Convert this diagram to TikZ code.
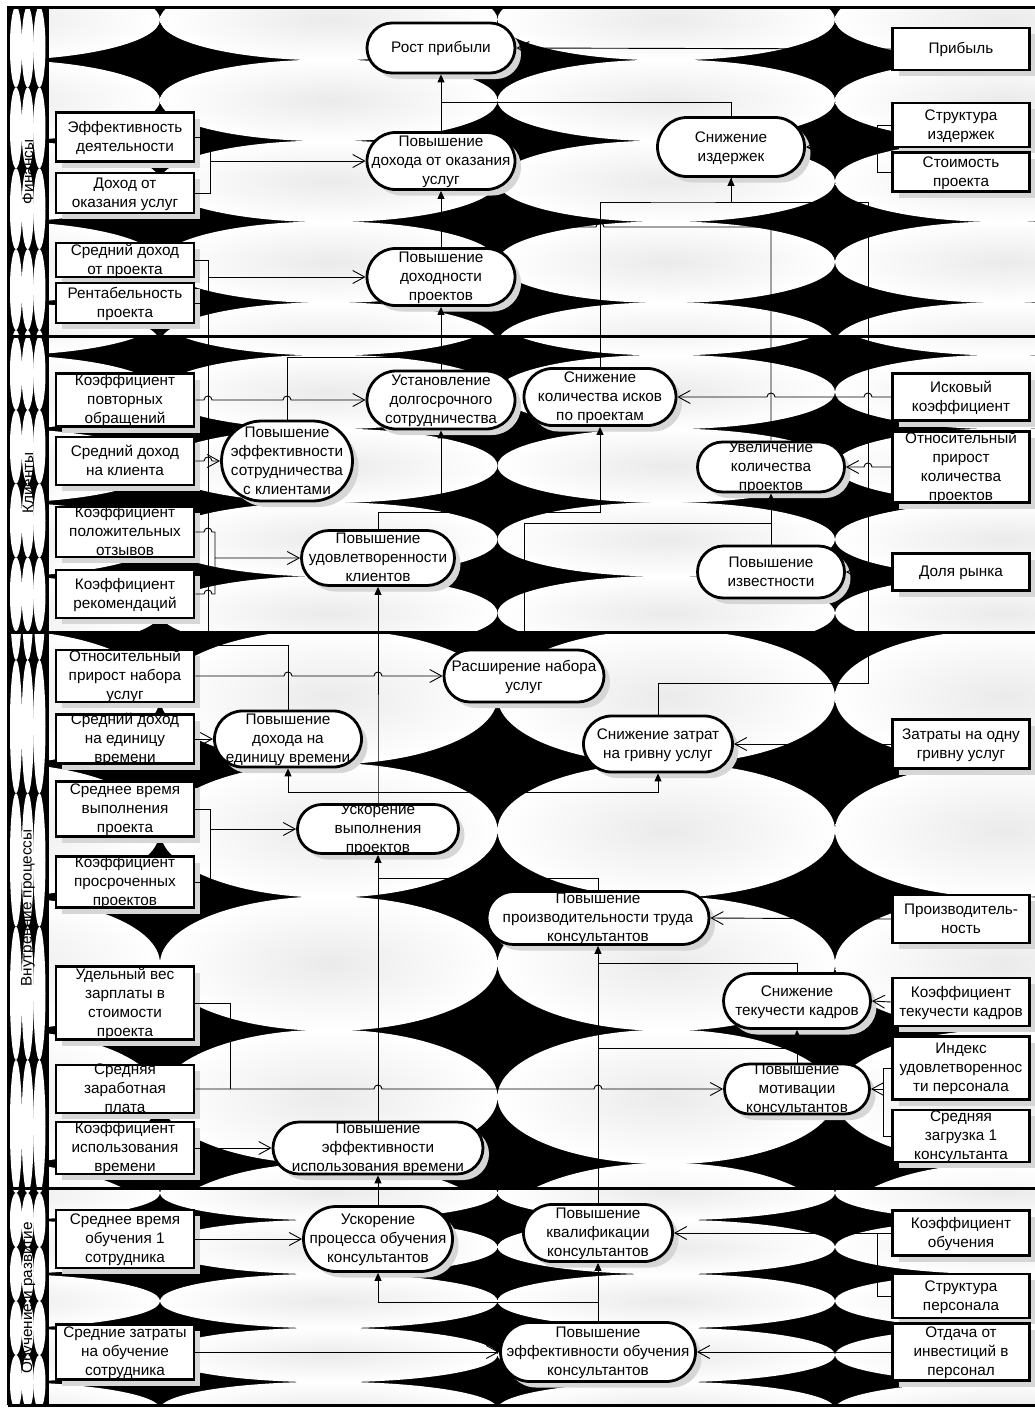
\documentclass[tikz,border=0pt]{standalone}
\usepackage{fontspec}
\setmainfont{Liberation Sans}
\usetikzlibrary{arrows.meta,shapes.misc,shadows}
\newcommand\nodefont{\fontsize{15.3}{19}\selectfont}
\newcommand\ntext[1]{\makebox[0pt]{\smash{\raisebox{-4.3pt}{\begin{tabular}{@{}c@{}}#1\end{tabular}}}}}
\newcommand\lanebg[4]{%
 \begin{scope}
  \clip (48,#1) rectangle (1035,#2);
  \fill[black] (48,#1) rectangle (1035,#2);
  \foreach \k in {0,...,3}{
   \foreach \j in {0,...,5}{
     \shade[inner color=black!8,outer color=white] ({-8.75+337.5*\k},{#3+#4*\j}) ellipse[x radius=168.75pt,y radius={0.505*#4pt}];
   }}
 \end{scope}}
\newcommand\headbg[4]{%
 \begin{scope}
  \clip (10,#1) rectangle (46,#2);
  \fill[black] (10,#1) rectangle (46,#2);
  \foreach \xc in {16,27.7,39.4}{
   \foreach \j in {-1,...,5}{
     \fill[white] (\xc,{#3+#4*(\j+0.5)}) ellipse[x radius=6.1pt,y radius={0.5*#4pt}];
   }}
 \end{scope}}
\tikzset{
  shd/.style={drop shadow={shadow xshift=6pt,shadow yshift=-6pt,fill=black!16,opacity=1}},
  mbox/.style={rectangle,draw,line width=2.8pt,fill=white,inner sep=0pt,minimum width=138pt,font=\nodefont,shd},
  rbox/.style={mbox,minimum width=137pt},
  goal/.style={rounded rectangle,draw,line width=2.8pt,fill=white,inner sep=0pt,font=\nodefont,shd},
  ln/.style={line width=0.9pt},
  oa/.style={ln,-{Straight Barb[length=12pt,width=13pt]}},
  fa/.style={ln,-{Triangle[length=8pt,width=7pt]}},
  lanelbl/.style={rotate=90,font=\nodefont,inner sep=0pt},
  frame/.style={line width=3pt},
}
\begin{document}
\begin{tikzpicture}[x=1pt,y=-1pt]
\useasboundingbox (0,0) rectangle (1035,1408);
\fill[white] (0,0) rectangle (1035,1408);
% ---------- backgrounds ----------
\lanebg{9}{335}{19.5}{80.9}
\lanebg{337}{632}{318.3}{73.7}
\lanebg{633}{1188}{563.7}{133.3}
\lanebg{1189}{1404}{1193}{54}
\headbg{9}{335}{6.5}{80.9}
\headbg{337}{632}{262.6}{73.7}
\headbg{633}{1188}{526.7}{133.3}
\headbg{1189}{1404}{1193}{54}
% ---------- frame ----------
\draw[frame] (8,1405) -- (8,7.5) -- (1035,7.5);
\draw[frame] (47,7.5) -- (47,1405);
\draw[frame] (8,336) -- (1035,336);
\draw[frame] (8,632.5) -- (1035,632.5);
\draw[frame] (8,1188.5) -- (1035,1188.5);
\draw[frame] (8,1405) -- (1035,1405);
% ---------- lane labels ----------
\node[lanelbl] (lab1) at (28,172) {Финансы};
\node[lanelbl] (lab2) at (28,483) {Клиенты};
\node[lanelbl] (lab3) at (28,908) {Внутренние процессы};
\node[lanelbl] (lab4) at (28,1298) {Обучение и развитие};
% ---------- left metric boxes ----------
\node[mbox,minimum height=49pt] (m1) at (125,137) {\ntext{Эффективность\\деятельности}};
\node[mbox,minimum height=40pt] (m2) at (125,193) {\ntext{Доход от\\оказания услуг}};
\node[mbox,minimum height=34pt] (m3) at (125,260) {\ntext{Средний доход\\от проекта}};
\node[mbox,minimum height=40pt] (m4) at (125,303) {\ntext{Рентабельность\\проекта}};
\node[mbox,minimum height=53pt] (m5) at (125,400) {\ntext{Коэффициент\\повторных\\обращений}};
\node[mbox,minimum height=48pt] (m6) at (125,461) {\ntext{Средний доход\\на клиента}};
\node[mbox,minimum height=50pt] (m7) at (125,532) {\ntext{Коэффициент\\положительных\\отзывов}};
\node[mbox,minimum height=48pt] (m8) at (125,594) {\ntext{Коэффициент\\рекомендаций}};
\node[mbox,minimum height=52pt] (m9) at (125,676) {\ntext{Относительный\\прирост набора\\услуг}};
\node[mbox,minimum height=49pt] (m10) at (125,739) {\ntext{Средний доход\\на единицу\\времени}};
\node[mbox,minimum height=55pt] (m11) at (125,809) {\ntext{Среднее время\\выполнения\\проекта}};
\node[mbox,minimum height=51pt] (m12) at (125,882) {\ntext{Коэффициент\\просроченных\\проектов}};
\node[mbox,minimum height=73pt] (m13) at (125,1003) {\ntext{Удельный вес\\зарплаты в\\стоимости\\проекта}};
\node[mbox,minimum height=48pt] (m14) at (125,1089) {\ntext{Средняя\\заработная\\плата}};
\node[mbox,minimum height=52pt] (m15) at (125,1148) {\ntext{Коэффициент\\использования\\времени}};
\node[mbox,minimum height=58pt] (m16) at (125,1239) {\ntext{Среднее время\\обучения 1\\сотрудника}};
\node[mbox,minimum height=55pt] (m17) at (125,1352) {\ntext{Средние затраты\\на обучение\\сотрудника}};
% ---------- right metric boxes ----------
\node[rbox,minimum height=42pt] (r1) at (961,49) {\ntext{Прибыль}};
\node[rbox,minimum height=44pt] (r2) at (961,125) {\ntext{Структура\\издержек}};
\node[rbox,minimum height=39pt] (r3) at (961,172) {\ntext{Стоимость\\проекта}};
\node[rbox,minimum height=47pt] (r4) at (961,397) {\ntext{Исковый\\коэффициент}};
\node[rbox,minimum height=71pt] (r5) at (961,467) {\ntext{Относительный\\прирост\\количества\\проектов}};
\node[rbox,minimum height=37pt] (r6) at (961,572) {\ntext{Доля рынка}};
\node[rbox,minimum height=49pt] (r7) at (961,744) {\ntext{Затраты на одну\\гривну услуг}};
\node[rbox,minimum height=48pt] (r8) at (961,919) {\ntext{Производитель-\\ность}};
\node[rbox,minimum height=48pt] (r9) at (961,1002) {\ntext{Коэффициент\\текучести кадров}};
\node[rbox,minimum height=63pt] (r10) at (961,1068) {\ntext{Индекс\\удовлетвореннос\\ти персонала}};
\node[rbox,minimum height=52pt] (r11) at (961,1136) {\ntext{Средняя\\загрузка 1\\консультанта}};
\node[rbox,minimum height=45pt] (r12) at (961,1233) {\ntext{Коэффициент\\обучения}};
\node[rbox,minimum height=44pt] (r13) at (961,1296) {\ntext{Структура\\персонала}};
\node[rbox,minimum height=57pt] (r14) at (961,1352) {\ntext{Отдача от\\инвестиций в\\персонал}};
% ---------- goals ----------
\node[goal,minimum width=148pt,minimum height=50pt] (g1) at (441,48) {\ntext{Рост прибыли}};
\node[goal,minimum width=148pt,minimum height=57pt] (g2) at (441,161) {\ntext{Повышение\\дохода от оказания\\услуг}};
\node[goal,minimum width=148pt,minimum height=57pt] (g3) at (441,277) {\ntext{Повышение\\доходности\\проектов}};
\node[goal,minimum width=147pt,minimum height=59pt] (g4) at (731,147) {\ntext{Снижение\\издержек}};
\node[goal,minimum width=148pt,minimum height=58pt] (g5) at (441,400) {\ntext{Установление\\долгосрочного\\сотрудничества}};
\node[goal,minimum width=152pt,minimum height=57pt] (g6) at (600,397) {\ntext{Снижение\\количества исков\\по проектам}};
\node[goal,minimum width=131pt,minimum height=80pt] (g7) at (287,461) {\ntext{Повышение\\эффективности\\сотрудничества\\с клиентами}};
\node[goal,minimum width=153pt,minimum height=55pt] (g8) at (378,558) {\ntext{Повышение\\удовлетворенности\\клиентов}};
\node[goal,minimum width=147pt,minimum height=50pt] (g9) at (771,467) {\ntext{Увеличение\\количества\\проектов}};
\node[goal,minimum width=147pt,minimum height=52pt] (g10) at (771,572) {\ntext{Повышение\\известности}};
\node[goal,minimum width=160pt,minimum height=52pt] (g11) at (524,676) {\ntext{Расширение набора\\услуг}};
\node[goal,minimum width=147pt,minimum height=56pt] (g12) at (288,739) {\ntext{Повышение\\дохода на\\единицу времени}};
\node[goal,minimum width=149pt,minimum height=56pt] (g13) at (658,744) {\ntext{Снижение затрат\\на гривну услуг}};
\node[goal,minimum width=161pt,minimum height=49pt] (g14) at (378,829) {\ntext{Ускорение\\выполнения\\проектов}};
\node[goal,minimum width=222pt,minimum height=53pt] (g15) at (598,918) {\ntext{Повышение\\производительности труда\\консультантов}};
\node[goal,minimum width=147pt,minimum height=55pt] (g16) at (797,1001) {\ntext{Снижение\\текучести кадров}};
\node[goal,minimum width=145pt,minimum height=50pt] (g17) at (797,1089) {\ntext{Повышение\\мотивации\\консультантов}};
\node[goal,minimum width=210pt,minimum height=52pt] (g18) at (378,1148) {\ntext{Повышение\\эффективности\\использования времени}};
\node[goal,minimum width=149pt,minimum height=65pt] (g19) at (378,1239) {\ntext{Ускорение\\процесса обучения\\консультантов}};
\node[goal,minimum width=149pt,minimum height=57pt] (g20) at (598,1233) {\ntext{Повышение\\квалификации\\консультантов}};
\node[goal,minimum width=195pt,minimum height=59pt] (g21) at (598,1352) {\ntext{Повышение\\эффективности обучения\\консультантов}};
% ---------- junction coordinates ----------
\coordinate (j1) at (210,161);
\coordinate (j2) at (208,277);
\coordinate (j4) at (877,147);
\coordinate (j6) at (215,558);
\coordinate (j7) at (210,829);
\coordinate (j8) at (230,1089);
\coordinate (j9) at (883,1089);
\coordinate (j10) at (877,1233);
\coordinate (k1) at (700,202);
\coordinate (k2) at (441,512);
\coordinate (k3) at (378,792);
\coordinate (k4) at (378,878);
\coordinate (k5) at (598,963);
\coordinate (k6) at (598,1302);
\coordinate (k7) at (441,227);
\coordinate (k8) at (441,357);
\coordinate (k9) at (771,523);
\coordinate (k10) at (598,1048);
% ---------- lane 1 ----------
\draw[oa] (m1.east) -| (j1) -- (g2.west);
\draw[ln] (m2.east) -| (j1);
\draw[oa] (m3.east) -| (j2) -- (g3.west);
\draw[ln] (m4.east) -| (j2);
\draw[ln] (g12.north) |- (208,645) -- (j2);
\draw[fa] (g3.north) -- (g2.south);
\draw[fa] (g2.north) -- (g1.south);
\draw[ln] (g4.north) |- (441,102);
\draw[oa] (r1.west) -- (g1.east);
\draw[oa] (r2.west) -| (j4) -- (g4.east);
\draw[ln] (r3.west) -| (j4);
\draw[fa] (g6.north) |- (k1) -| (g4.south);
\draw[ln] (g13.north) |- (868,683) -- (868,202) -| (g4.south);
\draw[ln] (g9.north) |- (604,227) .. controls (604,221.7) and (596,221.7) .. (596,227) -- (k7);
% ---------- lane 2 ----------
\draw[fa] (g10.north) -- (g9.south);
\draw[ln] (g11.north) |- (k9);
\draw[ln] (g7.north) |- (k8);
\draw[fa] (g5.north) -- (g3.south);
\draw[fa] (g8.north) |- (k2) -- (g5.south);
\draw[fa] (k2) -| (g6.south);
\draw[oa] (m5.east) -- (204,400) .. controls (204,394.7) and (212,394.7) .. (212,400) -- (283,400) .. controls (283,394.7) and (291,394.7) .. (291,400) -- (g5.west);
\draw[oa] (m6.east) -- (204,461) .. controls (204,455.7) and (212,455.7) .. (212,461) -- (g7.west);
\draw[oa] (m7.east) -- (204,532) .. controls (204,526.7) and (212,526.7) .. (212,532) -| (j6) -- (g8.west);
\draw[ln] (m8.east) -- (204,594) .. controls (204,588.7) and (212,588.7) .. (212,594) -| (j6);
\draw[oa] (r4.west) -- (872,397) .. controls (872,391.7) and (864,391.7) .. (864,397) -- (775,397) .. controls (775,391.7) and (767,391.7) .. (767,397) -- (g6.east);
\draw[oa] (r5.west) -- (872,467) .. controls (872,461.7) and (864,461.7) .. (864,467) -- (g9.east);
\draw[oa] (r6.west) -- (872,572) .. controls (872,566.7) and (864,566.7) .. (864,572) -- (g10.east);
% ---------- lane 3 ----------
\draw[oa] (m9.east) -- (284,676) .. controls (284,670.7) and (292,670.7) .. (292,676) -- (374,676) .. controls (374,670.7) and (382,670.7) .. (382,676) -- (g11.west);
\draw[oa] (m10.east) -- (g12.west);
\draw[oa] (m11.east) -| (j7) -- (g14.west);
\draw[ln] (m12.east) -| (j7);
\draw[fa] (g14.north) -- (k3) -- (g8.south);
\draw[fa] (k3) -| (g12.south);
\draw[fa] (k3) -| (g13.south);
\draw[fa] (g15.north) |- (k4) -- (g14.south);
\draw[ln] (g18.north) -- (k4);
\draw[oa] (r7.west) -- (g13.east);
\draw[oa] (r8.west) -- (g15.east);
\draw[fa] (g16.north) |- (k5) -- (g15.south);
\draw[ln] (g20.north) -- (k5);
\draw[ln] (g17.north) |- (k10);
\draw[fa] (g17.north) -- (g16.south);
\draw[ln] (m13.east) -| (j8);
\draw[oa] (m14.east) -- (j8) -- (374,1089) .. controls (374,1083.7) and (382,1083.7) .. (382,1089) -- (594,1089) .. controls (594,1083.7) and (602,1083.7) .. (602,1089) -- (g17.west);
\draw[oa] (m15.east) -- (g18.west);
\draw[oa] (r9.west) -- (g16.east);
\draw[oa] (r10.west) -| (j9) -- (g17.east);
\draw[ln] (r11.west) -| (j9);
% ---------- lane 4 ----------
\draw[fa] (g19.north) -- (g18.south);
\draw[fa] (g21.north) -- (g20.south);
\draw[fa] (k6) -| (g19.south);
\draw[oa] (m16.east) -- (g19.west);
\draw[oa] (m17.east) -- (g21.west);
\draw[oa] (r12.west) -- (j10) -- (g20.east);
\draw[ln] (r13.west) -| (j10);
\draw[oa] (r14.west) -- (g21.east);
\end{tikzpicture}
\end{document}
